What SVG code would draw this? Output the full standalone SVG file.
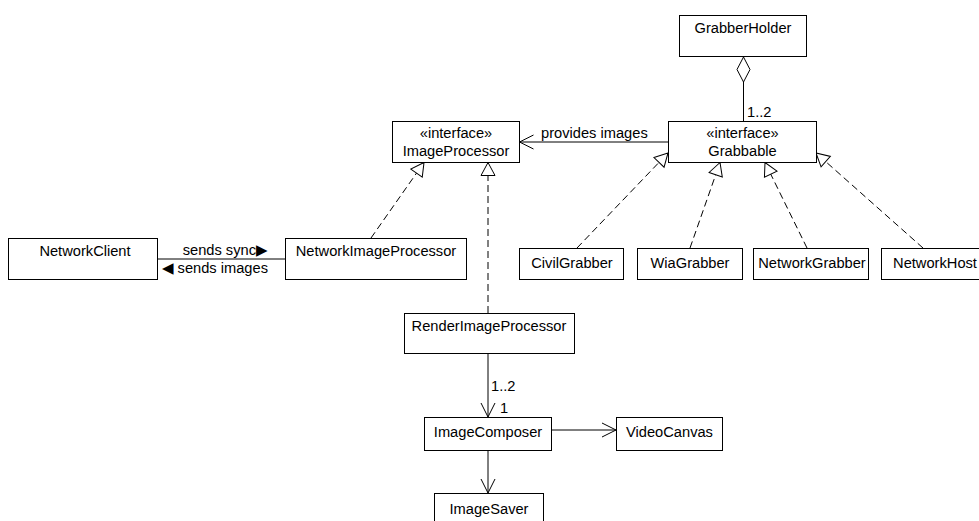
<svg xmlns="http://www.w3.org/2000/svg" width="979" height="521" viewBox="0 0 979 521">
<defs>
<style>
.box{fill:#fff;stroke:#000;stroke-width:1}
.t{font-family:"Liberation Sans",Arial,sans-serif;font-size:14.67px;fill:#000;text-anchor:middle}
.ts{font-family:"Liberation Sans",Arial,sans-serif;font-size:14.67px;fill:#000}
.ln{fill:none;stroke:#000;stroke-width:1}
.dash{fill:none;stroke:#000;stroke-width:1;stroke-dasharray:7,4}
</style>
<marker id="tri" markerUnits="userSpaceOnUse" markerWidth="16" markerHeight="18" viewBox="-15 -9 16 18" refX="0" refY="0" orient="auto">
<path d="M0 0 L-13 -7 L-13 7 Z" fill="#fff" stroke="#000" stroke-width="1"/>
</marker>
<marker id="open" markerUnits="userSpaceOnUse" markerWidth="18" markerHeight="18" viewBox="-16 -9 17 18" refX="0" refY="0" orient="auto">
<path d="M-14 -7 L0 0 L-14 7" fill="none" stroke="#000" stroke-width="1"/>
</marker>
</defs>
<rect width="979" height="521" fill="#fff"/>
<g id="connectors">
<path class="ln" d="M743.5 57 L750 69.5 L743.5 82 L737 69.5 Z" fill="#fff"/>
<line class="ln" x1="743.5" y1="82" x2="743.5" y2="121"/>
<text class="ts" x="747" y="117">1..2</text>
<line class="ln" x1="668" y1="142" x2="519.5" y2="142" marker-end="url(#open)"/>
<text class="ts" x="541" y="138">provides images</text>
<line class="dash" x1="577" y1="248" x2="668" y2="153" marker-end="url(#tri)"/>
<line class="dash" x1="690" y1="248" x2="720" y2="162.5" marker-end="url(#tri)"/>
<line class="dash" x1="807" y1="248" x2="765" y2="162.5" marker-end="url(#tri)"/>
<line class="dash" x1="923" y1="248" x2="816" y2="153" marker-end="url(#tri)"/>
<line class="dash" x1="371" y1="238" x2="424" y2="162.5" marker-end="url(#tri)"/>
<line class="dash" x1="488" y1="313" x2="488" y2="162.5" marker-end="url(#tri)"/>
<line class="ln" x1="157" y1="259" x2="285" y2="259"/>
<text class="ts" x="268" y="255" text-anchor="end">sends sync▶</text>
<text class="ts" x="268" y="273" text-anchor="end">◀ sends images</text>
<line class="ln" x1="488" y1="353" x2="488" y2="417" marker-end="url(#open)"/>
<text class="ts" x="491" y="391">1..2</text>
<text class="ts" x="500" y="413">1</text>
<line class="ln" x1="551" y1="430" x2="616" y2="430" marker-end="url(#open)"/>
<line class="ln" x1="488" y1="450" x2="488" y2="493" marker-end="url(#open)"/>
</g>
<g id="GrabberHolder"><rect class="box" x="679.5" y="15.5" width="127" height="41"/><text class="t" x="743" y="33">GrabberHolder</text></g>
<g id="Grabbable"><rect class="box" x="668.5" y="121.5" width="148" height="41"/><text class="t" x="742.5" y="138">«interface»</text><text class="t" x="742.5" y="156">Grabbable</text></g>
<g id="ImageProcessor"><rect class="box" x="392.5" y="121.5" width="127" height="41"/><text class="t" x="456" y="138">«interface»</text><text class="t" x="456" y="156">ImageProcessor</text></g>
<g id="NetworkClient"><rect class="box" x="8.5" y="238.5" width="149" height="41"/><text class="t" x="85" y="256">NetworkClient</text></g>
<g id="NetworkImageProcessor"><rect class="box" x="285.5" y="238.5" width="181" height="41"/><text class="t" x="376" y="256">NetworkImageProcessor</text></g>
<g id="CivilGrabber"><rect class="box" x="519.5" y="248.5" width="104" height="31"/><text class="t" x="572" y="268">CivilGrabber</text></g>
<g id="WiaGrabber"><rect class="box" x="637.5" y="248.5" width="105" height="31"/><text class="t" x="690" y="268">WiaGrabber</text></g>
<g id="NetworkGrabber"><rect class="box" x="753.5" y="248.5" width="115" height="31"/><text class="t" x="812" y="268">NetworkGrabber</text></g>
<g id="NetworkHost"><rect class="box" x="881.5" y="248.5" width="110" height="31"/><text class="t" x="935" y="268">NetworkHost</text></g>
<g id="RenderImageProcessor"><rect class="box" x="404.5" y="313.5" width="170" height="40"/><text class="t" x="489" y="331">RenderImageProcessor</text></g>
<g id="ImageComposer"><rect class="box" x="424.5" y="417.5" width="127" height="33"/><text class="t" x="488" y="437">ImageComposer</text></g>
<g id="VideoCanvas"><rect class="box" x="616.5" y="417.5" width="106" height="33"/><text class="t" x="669.5" y="437">VideoCanvas</text></g>
<g id="ImageSaver"><rect class="box" x="434.5" y="493.5" width="109" height="32"/><text class="t" x="489" y="514">ImageSaver</text></g>
</svg>
